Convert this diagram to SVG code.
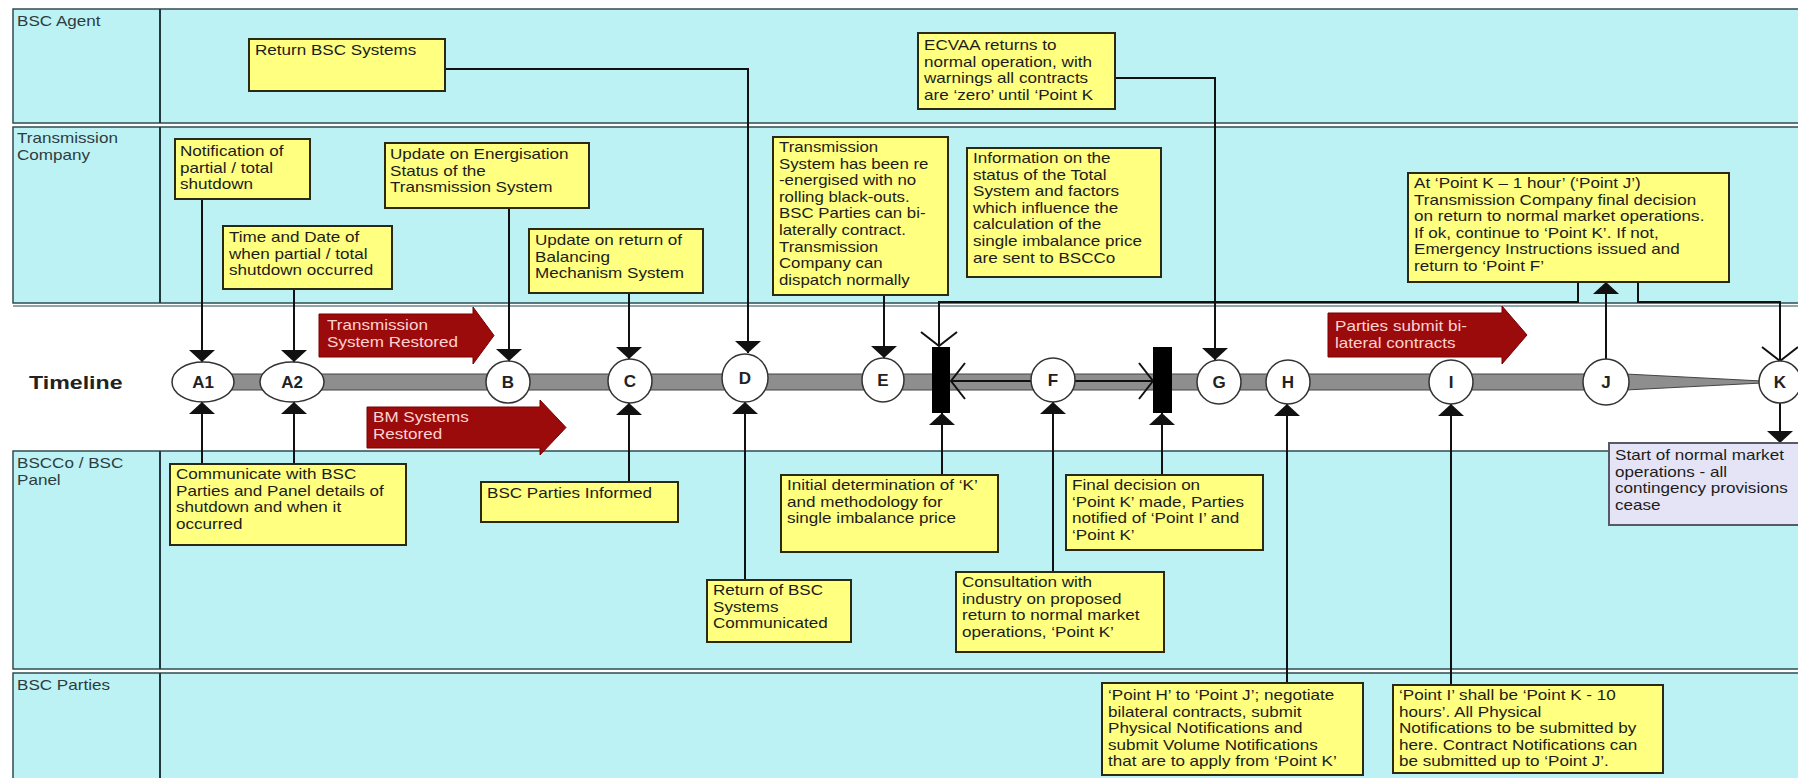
<svg xmlns="http://www.w3.org/2000/svg" width="1798" height="778" viewBox="0 0 1798 778">
<style>
.lane{fill:#bdf2f4;stroke:#2f4c52;stroke-width:1.5}
.div{stroke:#22383c;stroke-width:2}
.box{fill:#ffff80;stroke:#2a2a14;stroke-width:2}
.sbox{fill:#e4e4f6;stroke:#555a66;stroke-width:2}
.t{font-family:"Liberation Sans",Arial,sans-serif;font-size:14px;fill:#1c1c1c}
.ll{font-family:"Liberation Sans",Arial,sans-serif;font-size:14px;fill:#2e3c40}
.tl{font-family:"Liberation Sans",Arial,sans-serif;font-size:19px;font-weight:bold;fill:#222}
.cl{font-family:"Liberation Sans",Arial,sans-serif;font-size:17px;font-weight:bold;fill:#222;text-anchor:middle}
.rt{font-family:"Liberation Sans",Arial,sans-serif;font-size:14px;fill:#ffd2d2}
.red{fill:#9b0b0b;stroke:#7a0000;stroke-width:1}
.pt{fill:#fff;stroke:#333;stroke-width:1.5}
.c{fill:none;stroke:#111;stroke-width:2}
.bar{fill:#000}
</style>
<defs>
<marker id="fa" viewBox="0 0 12 26" refX="12" refY="13" markerWidth="12" markerHeight="26" markerUnits="userSpaceOnUse" orient="auto"><path d="M0,0 L12,13 L0,26 z" fill="#111"/></marker>
<marker id="oa" viewBox="-2 -2 18 40" refX="14" refY="18" markerWidth="18" markerHeight="40" markerUnits="userSpaceOnUse" orient="auto-start-reverse"><path d="M0,0 L14,18 L0,36" fill="none" stroke="#111" stroke-width="2"/></marker>
</defs>
<rect x="0" y="0" width="1798" height="778" fill="#fff"/>
<g id="lanes">
<rect class="lane" x="13" y="9" width="1790" height="114"/>
<rect class="lane" x="13" y="127" width="1790" height="176"/>
<rect x="13" y="306" width="1790" height="145" fill="#fff"/>
<line x1="13" y1="306" x2="1798" y2="306" stroke="#6a8a8e" stroke-width="1.5"/>
<rect class="lane" x="13" y="451" width="1790" height="218"/>
<rect class="lane" x="13" y="673" width="1790" height="120"/>
<line class="div" x1="160" y1="9" x2="160" y2="123"/>
<line class="div" x1="160" y1="127" x2="160" y2="303"/>
<line class="div" x1="160" y1="451" x2="160" y2="669"/>
<line class="div" x1="160" y1="673" x2="160" y2="778"/>
<text class="ll" transform="translate(17,26) scale(1.22,1)">BSC Agent</text>
<text class="ll" transform="translate(17,143) scale(1.22,1)"><tspan x="0">Transmission</tspan><tspan x="0" dy="16.6">Company</tspan></text>
<text class="tl" transform="translate(29,389) scale(1.22,1)">Timeline</text>
<text class="ll" transform="translate(17,468) scale(1.22,1)"><tspan x="0">BSCCo / BSC</tspan><tspan x="0" dy="16.6">Panel</tspan></text>
<text class="ll" transform="translate(17,690) scale(1.22,1)">BSC Parties</text>
</g>
<g id="timeline">
<rect x="205" y="374" width="1401" height="16" fill="#8e8e8e" stroke="#444" stroke-width="1"/>
<polygon points="1606,373 1606,391 1762,383 1762,381" fill="#8e8e8e" stroke="#444" stroke-width="1"/>
</g>
<g id="arrow-tsr">
<path class="red" d="M319,314 H473 V307 L494,335.5 L473,364 V357 H319 Z"/>
<text class="rt" transform="translate(327,330) scale(1.22,1)"><tspan x="0">Transmission</tspan><tspan x="0" dy="16.6">System Restored</tspan></text>
</g>
<g id="arrow-bm">
<path class="red" d="M367,407 H540 V400 L566,427.5 L540,455 V448 H367 Z"/>
<text class="rt" transform="translate(373,422) scale(1.22,1)"><tspan x="0">BM Systems</tspan><tspan x="0" dy="16.6">Restored</tspan></text>
</g>
<g id="arrow-parties">
<path class="red" d="M1328,313 H1502 V306 L1527,335 L1502,364 V357 H1328 Z"/>
<text class="rt" transform="translate(1335,331) scale(1.22,1)"><tspan x="0">Parties submit bi-</tspan><tspan x="0" dy="16.6">lateral contracts</tspan></text>
</g>
<g id="connectors">
<path class="c" d="M445,69 H748 V353" marker-end="url(#fa)"/>
<path class="c" d="M202,199 V362" marker-end="url(#fa)"/>
<path class="c" d="M294,289 V362" marker-end="url(#fa)"/>
<path class="c" d="M509,208 V361" marker-end="url(#fa)"/>
<path class="c" d="M629,293 V359" marker-end="url(#fa)"/>
<path class="c" d="M884,295 V358" marker-end="url(#fa)"/>
<path class="c" d="M1115,78 H1215 V360" marker-end="url(#fa)"/>
<path class="c" d="M202,464 V402" marker-end="url(#fa)"/>
<path class="c" d="M294,464 V402" marker-end="url(#fa)"/>
<path class="c" d="M629,482 V403" marker-end="url(#fa)"/>
<path class="c" d="M745,580 V402" marker-end="url(#fa)"/>
<path class="c" d="M942,475 V413" marker-end="url(#fa)"/>
<path class="c" d="M1053,572 V402" marker-end="url(#fa)"/>
<path class="c" d="M1162,475 V413" marker-end="url(#fa)"/>
<path class="c" d="M1287,683 V404" marker-end="url(#fa)"/>
<path class="c" d="M1451,685 V404" marker-end="url(#fa)"/>
<path class="c" d="M1606,359 V282" marker-end="url(#fa)"/>
<path class="c" d="M1578,282 V302 H939 V346" marker-end="url(#oa)"/>
<path class="c" d="M1638,282 V302 H1780 V361" marker-end="url(#oa)"/>
<path class="c" d="M1780,403 V443" marker-end="url(#fa)"/>
<path class="c" d="M951,381 H1153" marker-start="url(#oa)" marker-end="url(#oa)"/>
</g>
<g id="bar1"><rect class="bar" x="932" y="347" width="18" height="66"/></g>
<g id="bar2"><rect class="bar" x="1153" y="347" width="19" height="66"/></g>
<g id="pA1"><ellipse class="pt" cx="203" cy="382" rx="31" ry="20"/><text class="cl" x="203" y="388">A1</text></g>
<g id="pA2"><ellipse class="pt" cx="292" cy="382" rx="32" ry="20"/><text class="cl" x="292" y="388">A2</text></g>
<g id="pB"><ellipse class="pt" cx="508" cy="382" rx="22" ry="21"/><text class="cl" x="508" y="388">B</text></g>
<g id="pC"><ellipse class="pt" cx="630" cy="381" rx="22" ry="22"/><text class="cl" x="630" y="387">C</text></g>
<g id="pD"><ellipse class="pt" cx="745" cy="378" rx="23" ry="24"/><text class="cl" x="745" y="384">D</text></g>
<g id="pE"><ellipse class="pt" cx="883" cy="380" rx="21" ry="22"/><text class="cl" x="883" y="386">E</text></g>
<g id="pF"><ellipse class="pt" cx="1053" cy="380" rx="22" ry="22"/><text class="cl" x="1053" y="386">F</text></g>
<g id="pG"><ellipse class="pt" cx="1219" cy="382" rx="22" ry="22"/><text class="cl" x="1219" y="388">G</text></g>
<g id="pH"><ellipse class="pt" cx="1288" cy="382" rx="22" ry="22"/><text class="cl" x="1288" y="388">H</text></g>
<g id="pI"><ellipse class="pt" cx="1451" cy="382" rx="22" ry="22"/><text class="cl" x="1451" y="388">I</text></g>
<g id="pJ"><ellipse class="pt" cx="1606" cy="382" rx="23" ry="23"/><text class="cl" x="1606" y="388">J</text></g>
<g id="pK"><ellipse class="pt" cx="1780" cy="382" rx="21" ry="21"/><text class="cl" x="1780" y="388">K</text></g>
<g id="n-return"><rect class="box" x="249" y="39" width="196" height="52"/><text class="t" transform="translate(255,55) scale(1.22,1)">Return BSC Systems</text></g>
<g id="n-notif"><rect class="box" x="175" y="139" width="135" height="60"/><text class="t" transform="translate(180,156) scale(1.22,1)"><tspan x="0">Notification of</tspan><tspan x="0" dy="16.6">partial / total</tspan><tspan x="0" dy="16.6">shutdown</tspan></text></g>
<g id="n-energ"><rect class="box" x="385" y="143" width="204" height="65"/><text class="t" transform="translate(390,159) scale(1.22,1)"><tspan x="0">Update on Energisation</tspan><tspan x="0" dy="16.6">Status of the</tspan><tspan x="0" dy="16.6">Transmission System</tspan></text></g>
<g id="n-time"><rect class="box" x="223" y="226" width="169" height="63"/><text class="t" transform="translate(229,242) scale(1.22,1)"><tspan x="0">Time and Date of</tspan><tspan x="0" dy="16.6">when partial / total</tspan><tspan x="0" dy="16.6">shutdown occurred</tspan></text></g>
<g id="n-bal"><rect class="box" x="529" y="229" width="174" height="64"/><text class="t" transform="translate(535,245) scale(1.22,1)"><tspan x="0">Update on return of</tspan><tspan x="0" dy="16.6">Balancing</tspan><tspan x="0" dy="16.6">Mechanism System</tspan></text></g>
<g id="n-trans"><rect class="box" x="773" y="137" width="175" height="158"/><text class="t" transform="translate(779,152) scale(1.2,1)"><tspan x="0">Transmission</tspan><tspan x="0" dy="16.6">System has been re</tspan><tspan x="0" dy="16.6">-energised with no</tspan><tspan x="0" dy="16.6">rolling black-outs.</tspan><tspan x="0" dy="16.6">BSC Parties can bi-</tspan><tspan x="0" dy="16.6">laterally contract.</tspan><tspan x="0" dy="16.6">Transmission</tspan><tspan x="0" dy="16.6">Company can</tspan><tspan x="0" dy="16.6">dispatch normally</tspan></text></g>
<g id="n-info"><rect class="box" x="967" y="148" width="194" height="129"/><text class="t" transform="translate(973,163) scale(1.22,1)"><tspan x="0">Information on the</tspan><tspan x="0" dy="16.6">status of the Total</tspan><tspan x="0" dy="16.6">System and factors</tspan><tspan x="0" dy="16.6">which influence the</tspan><tspan x="0" dy="16.6">calculation of the</tspan><tspan x="0" dy="16.6">single imbalance price</tspan><tspan x="0" dy="16.6">are sent to BSCCo</tspan></text></g>
<g id="n-ecvaa"><rect class="box" x="918" y="33" width="197" height="76"/><text class="t" transform="translate(924,50) scale(1.22,1)"><tspan x="0">ECVAA returns to</tspan><tspan x="0" dy="16.6">normal operation, with</tspan><tspan x="0" dy="16.6">warnings all contracts</tspan><tspan x="0" dy="16.6">are ‘zero’ until ‘Point K</tspan></text></g>
<g id="n-j"><rect class="box" x="1408" y="173" width="321" height="109"/><text class="t" transform="translate(1414,188) scale(1.22,1)"><tspan x="0">At ‘Point K – 1 hour’ (‘Point J’)</tspan><tspan x="0" dy="16.6">Transmission Company final decision</tspan><tspan x="0" dy="16.6">on return to normal market operations.</tspan><tspan x="0" dy="16.6">If ok, continue to ‘Point K’.  If not,</tspan><tspan x="0" dy="16.6">Emergency Instructions issued and</tspan><tspan x="0" dy="16.6">return to ‘Point F’</tspan></text></g>
<g id="n-comm"><rect class="box" x="170" y="464" width="236" height="81"/><text class="t" transform="translate(176,479) scale(1.22,1)"><tspan x="0">Communicate with BSC</tspan><tspan x="0" dy="16.6">Parties and Panel details of</tspan><tspan x="0" dy="16.6">shutdown and when it</tspan><tspan x="0" dy="16.6">occurred</tspan></text></g>
<g id="n-informed"><rect class="box" x="481" y="482" width="197" height="40"/><text class="t" transform="translate(487,498) scale(1.22,1)">BSC Parties Informed</text></g>
<g id="n-initial"><rect class="box" x="781" y="475" width="217" height="77"/><text class="t" transform="translate(787,490) scale(1.22,1)"><tspan x="0">Initial determination of ‘K’</tspan><tspan x="0" dy="16.6">and methodology for</tspan><tspan x="0" dy="16.6">single imbalance price</tspan></text></g>
<g id="n-retcomm"><rect class="box" x="707" y="580" width="144" height="62"/><text class="t" transform="translate(713,595) scale(1.22,1)"><tspan x="0">Return of BSC</tspan><tspan x="0" dy="16.6">Systems</tspan><tspan x="0" dy="16.6">Communicated</tspan></text></g>
<g id="n-consult"><rect class="box" x="956" y="572" width="208" height="80"/><text class="t" transform="translate(962,587) scale(1.22,1)"><tspan x="0">Consultation with</tspan><tspan x="0" dy="16.6">industry on proposed</tspan><tspan x="0" dy="16.6">return to normal market</tspan><tspan x="0" dy="16.6">operations, ‘Point K’</tspan></text></g>
<g id="n-final"><rect class="box" x="1066" y="475" width="197" height="75"/><text class="t" transform="translate(1072,490) scale(1.22,1)"><tspan x="0">Final decision on</tspan><tspan x="0" dy="16.6">‘Point K’ made, Parties</tspan><tspan x="0" dy="16.6">notified of ‘Point I’ and</tspan><tspan x="0" dy="16.6">‘Point K’</tspan></text></g>
<g id="n-h"><rect class="box" x="1102" y="683" width="261" height="92"/><text class="t" transform="translate(1108,700) scale(1.22,1)"><tspan x="0">‘Point H’ to ‘Point J’; negotiate</tspan><tspan x="0" dy="16.6">bilateral contracts, submit</tspan><tspan x="0" dy="16.6">Physical Notifications and</tspan><tspan x="0" dy="16.6">submit Volume Notifications</tspan><tspan x="0" dy="16.6">that are to apply from ‘Point K’</tspan></text></g>
<g id="n-i"><rect class="box" x="1393" y="685" width="270" height="88"/><text class="t" transform="translate(1399,700) scale(1.22,1)"><tspan x="0">‘Point I’ shall be ‘Point K - 10</tspan><tspan x="0" dy="16.6">hours’.  All Physical</tspan><tspan x="0" dy="16.6">Notifications to be submitted by</tspan><tspan x="0" dy="16.6">here.  Contract Notifications can</tspan><tspan x="0" dy="16.6">be submitted up to ‘Point J’.</tspan></text></g>
<g id="n-start"><rect class="sbox" x="1609" y="443" width="200" height="82"/><text class="t" transform="translate(1615,460) scale(1.22,1)"><tspan x="0">Start of normal market</tspan><tspan x="0" dy="16.6">operations - all</tspan><tspan x="0" dy="16.6">contingency provisions</tspan><tspan x="0" dy="16.6">cease</tspan></text></g>
</svg>
